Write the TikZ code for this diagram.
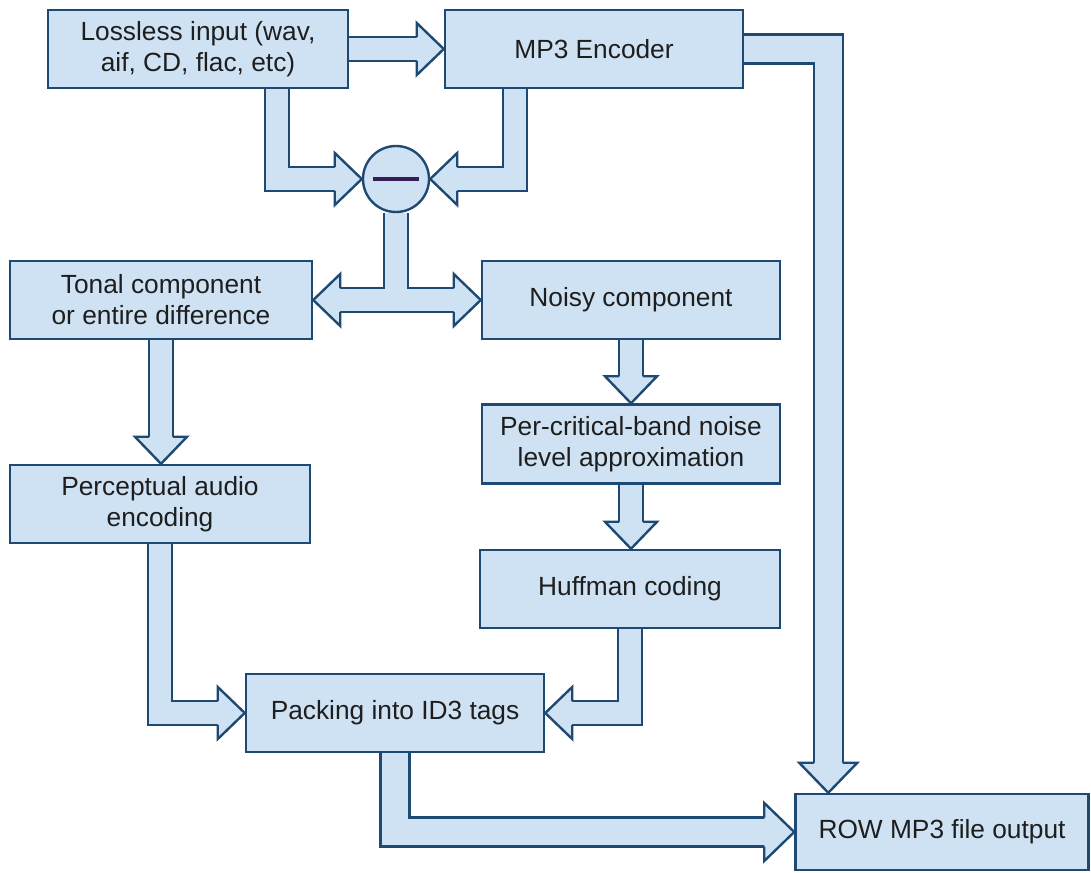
\documentclass[tikz,border=0pt]{standalone}
\usepackage{fontspec}
\setmainfont{Liberation Sans}
\usepackage{tikz}
\usepackage{xcolor}
\usetikzlibrary{positioning, calc, backgrounds}
\definecolor{boxfill}{RGB}{207, 226, 243}
\definecolor{boxedge}{RGB}{30, 73, 115}
\definecolor{minuscol}{RGB}{52, 30, 90}
\definecolor{textgray}{RGB}{30, 30, 30}

\begin{document}
\begin{tikzpicture}[x=0.025cm, y=-0.025cm,
  block/.style={rectangle, draw=boxedge, fill=boxfill, line width=1.7pt,
    minimum width=7.5cm, minimum height=1.95cm, align=center, inner sep=0pt,
    text=textgray, font=\fontsize{18.7}{22}\selectfont},
  fatshaft/.style={draw=boxfill, line width=15.4pt, line join=miter,
    preaction={draw=boxedge, line width=18.8pt, line join=miter}},
  wideshaft/.style={draw=boxfill, line width=18.9pt, line join=miter,
    preaction={draw=boxedge, line width=22.3pt, line join=miter}},
  headn/.pic={\filldraw[fill=boxfill, draw=boxedge, line width=1.7pt, line join=miter]
    (-27,12) -- (-27,26) -- (0,0) -- (-27,-26) -- (-27,-12);},
  headw/.pic={\filldraw[fill=boxfill, draw=boxedge, line width=1.7pt, line join=miter]
    (-30,14.5) -- (-30,29) -- (0,0) -- (-30,-29) -- (-30,-14.5);}
]
\useasboundingbox (0,0) rectangle (1091,873);

% Input and encoder
\node[block] (lossless) at (198,49) {Lossless input (wav,\\aif, CD, flac, etc)};
\node[block, minimum width=7.45cm] (mp3enc) at (594,49) {MP3 Encoder};

% Difference
\node[circle, draw=boxedge, fill=boxfill, line width=1.7pt,
      minimum size=1.65cm, inner sep=0pt] (diff) at (396,179) {};
\draw[minuscol, line width=2.2pt] ($(diff.center)+(-23,0)$) -- ($(diff.center)+(23,0)$);

% Components
\node[block, minimum width=7.55cm] (tonal) at (161,300) {Tonal component\\or entire difference};
\node[block, minimum width=7.45cm] (noisy) at (631,300) {Noisy component};
\node[block, minimum width=7.45cm, minimum height=1.975cm] (bandnoise) at (631,444)
      {Per-critical-band noise\\level approximation};
\node[block] (huffman) at (630,589) {Huffman coding};
\node[block] (perceptual) at (160,504) {Perceptual audio\\encoding};

% Output side
\node[block, minimum width=7.45cm] (packing) at (395,713) {Packing into ID3 tags};
\node[block, minimum width=7.325cm, minimum height=1.9cm] (output) at (942,832)
      {ROW MP3 file output};

% Fat arrows
\begin{scope}[on background layer]
\draw[fatshaft] (lossless.east) -- ($(mp3enc.west)+(-26,0)$);
\draw[fatshaft] ($(lossless.south)+(79,0)$) |- ($(diff.west)+(-26,0)$);
\draw[fatshaft] ($(mp3enc.south)+(-79,0)$) |- ($(diff.east)+(26,0)$);
\draw[fatshaft] (diff.south) -- (diff.south |- tonal.east)
      ($(tonal.east)+(26,0)$) -- ($(noisy.west)+(-26,0)$);
\draw[fatshaft] (tonal.south) -- ($(tonal.south |- perceptual.north)+(0,-26)$);
\draw[fatshaft] (noisy.south) -- ($(noisy.south |- bandnoise.north)+(0,-26)$);
\draw[fatshaft] (bandnoise.south) -- ($(bandnoise.south |- huffman.north)+(0,-26)$);
\draw[fatshaft] (perceptual.south) |- ($(packing.west)+(-26,0)$);
\draw[fatshaft] (huffman.south) |- ($(packing.east)+(26,0)$);
\draw[wideshaft] (mp3enc.east) -| ($(output.north west)+(34,-29)$);
\draw[wideshaft] (packing.south) |- ($(output.west)+(-29,0)$);

\pic at (mp3enc.west) {headn};
\pic at (diff.west) {headn};
\pic[rotate=180] at (diff.east) {headn};
\pic[rotate=180] at (tonal.east) {headn};
\pic at (noisy.west) {headn};
\pic[rotate=-90] at (tonal.south |- perceptual.north) {headn};
\pic[rotate=-90] at (noisy.south |- bandnoise.north) {headn};
\pic[rotate=-90] at (bandnoise.south |- huffman.north) {headn};
\pic at (packing.west) {headn};
\pic[rotate=180] at (packing.east) {headn};
\pic[rotate=-90] at ($(output.north west)+(34,0)$) {headw};
\pic at (output.west) {headw};
\end{scope}

\end{tikzpicture}
\end{document}
